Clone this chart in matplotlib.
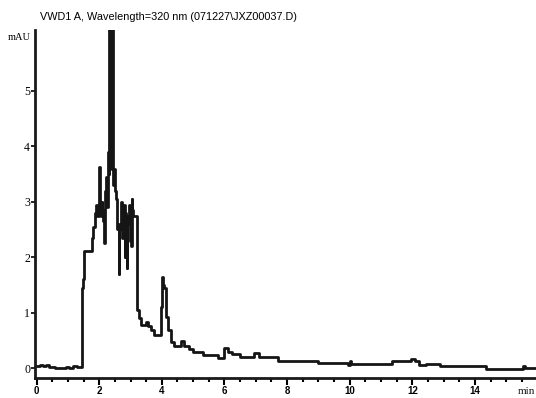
import matplotlib
matplotlib.use("Agg")
import matplotlib.pyplot as plt
from matplotlib.ticker import MultipleLocator

# retention time (min) and absorbance (mAU), step trace
time_min = [0.00, 0.10, 0.20, 0.30, 0.40, 0.60, 0.95, 1.05, 1.15, 1.30,
            1.44, 1.48, 1.52, 1.76, 1.80, 1.86, 1.90, 1.94, 1.98, 2.00,
            2.03, 2.06, 2.08, 2.10, 2.13, 2.16, 2.19, 2.22, 2.25, 2.28,
            2.30, 2.31, 2.33, 2.34, 2.35, 2.37, 2.38, 2.39, 2.41, 2.42,
            2.43, 2.45, 2.47, 2.50, 2.55, 2.58, 2.62, 2.64, 2.66, 2.70,
            2.73, 2.75, 2.77, 2.81, 2.83, 2.85, 2.88, 2.90, 2.92, 2.96,
            2.98, 3.00, 3.04, 3.06, 3.08, 3.14, 3.20, 3.26, 3.32, 3.48,
            3.56, 3.64, 3.75, 3.96, 4.02, 4.05, 4.07, 4.12, 4.20, 4.28,
            4.38, 4.60, 4.72, 4.86, 5.00, 5.30, 5.80, 6.00, 6.10, 6.25,
            6.50, 6.95, 7.10, 7.70, 9.00, 9.95, 10.00, 10.05, 10.10, 11.35,
            11.95, 12.10, 12.20, 12.45, 12.90, 14.35, 15.55, 15.60, 15.95]
signal_mau = [0.03, 0.05, 0.03, 0.05, 0.01, 0.00, 0.02, 0.00, 0.03, 0.02,
              1.45, 1.60, 2.12, 2.35, 2.55, 2.80, 2.95, 2.75, 3.00, 3.62,
              2.90, 2.75, 3.00, 2.85, 2.65, 2.25, 3.20, 3.45, 2.90, 3.90,
              3.50, 6.50, 4.20, 6.50, 3.80, 6.50, 4.60, 6.50, 3.60, 6.50,
              4.50, 3.30, 3.60, 3.20, 3.05, 2.50, 1.70, 2.60, 2.50, 3.00,
              2.35, 2.90, 2.95, 2.00, 2.80, 2.75, 1.80, 2.70, 2.60, 2.95,
              2.30, 2.20, 3.05, 2.85, 2.75, 2.75, 1.05, 0.90, 0.77, 0.83,
              0.76, 0.68, 0.60, 1.10, 1.64, 1.50, 1.45, 0.92, 0.68, 0.47,
              0.40, 0.49, 0.40, 0.35, 0.29, 0.24, 0.18, 0.36, 0.28, 0.25,
              0.20, 0.27, 0.20, 0.12, 0.09, 0.05, 0.13, 0.07, 0.08, 0.13,
              0.17, 0.12, 0.06, 0.08, 0.04, -0.02, 0.03, 0.00, 0.00]

y_ticks = [0, 1, 2, 3, 4, 5]
x_ticks = [0, 2, 4, 6, 8, 10, 12, 14]
title = "VWD1 A, Wavelength=320 nm (071227\\JXZ00037.D)"

fig = plt.figure(figsize=(5.36, 3.98), dpi=100)
ax = fig.add_axes([0.0653, 0.0503, 0.9347, 0.8743])

ax.plot(time_min, signal_mau, drawstyle="steps-post", color="#151515", lw=2.0)

ax.set_xlim(-0.05, 15.95)
ax.set_ylim(-0.18, 6.1)

for side in ["top", "right"]:
    ax.spines[side].set_visible(False)
ax.spines["left"].set_linewidth(2)
ax.spines["bottom"].set_linewidth(2)
ax.spines["left"].set_color("#1a1a1a")
ax.spines["bottom"].set_color("#1a1a1a")

ax.set_yticks(y_ticks)
ax.set_yticklabels([str(v) for v in y_ticks], fontfamily="Liberation Serif", fontsize=8.5)
ax.tick_params(axis="y", direction="out", length=3, width=1.2, pad=0.5)

ax.set_xticks(x_ticks)
ax.set_xticklabels([str(v) for v in x_ticks], fontfamily="Liberation Sans",
                   fontsize=7, fontweight="bold")
ax.xaxis.set_minor_locator(MultipleLocator(0.5))
ax.tick_params(axis="x", which="major", direction="out", length=5, width=1.5, pad=1)
ax.tick_params(axis="x", which="minor", direction="out", length=3, width=1.5)

ax.text(15.65, -0.34, "min", ha="center", va="top",
        fontfamily="Liberation Serif", fontsize=8, color="#1a1a1a", clip_on=False)
fig.text(0.015, 0.905, "mAU", fontfamily="Liberation Serif", fontsize=7.5,
         ha="left", va="center")
fig.text(0.075, 0.958, title, fontfamily="Liberation Sans", fontsize=7.8,
         ha="left", va="center")

fig.savefig("out.png", dpi=100)
